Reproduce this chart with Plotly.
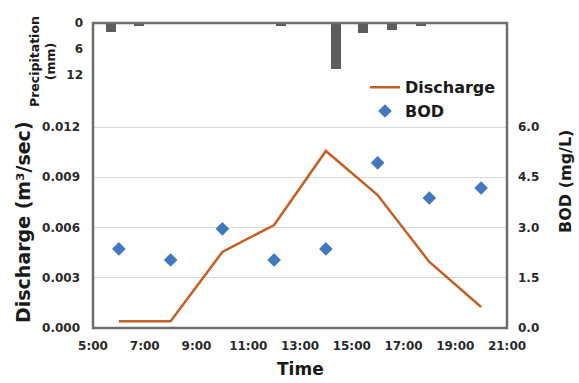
import plotly.graph_objects as go

# ---- data ----
hours = [6, 8, 10, 12, 14, 16, 18, 20]
discharge = [0.0004, 0.0004, 0.00454, 0.00615, 0.01057, 0.00794, 0.00394, 0.00125]
bod = [2.36, 2.03, 2.96, 2.03, 2.36, 4.93, 3.88, 4.18]
precip_hours = [5.68, 6.79, 12.25, 14.39, 15.45, 16.56, 17.68]
precip_mm = [2.0, 0.8, 0.7, 10.5, 2.4, 1.5, 0.7]

x_ticks = [5, 7, 9, 11, 13, 15, 17, 19, 21]
x_ticktext = ["5:00", "7:00", "9:00", "11:00", "13:00", "15:00", "17:00", "19:00", "21:00"]
q_ticks = [0, 0.003, 0.006, 0.009, 0.012]
bod_ticks = [0, 1.5, 3.0, 4.5, 6.0]
p_ticks = [0, 6, 12]

FONT = "DejaVu Sans"
TXT = "#1a1a1a"
TICK = "#2a2a2a"

fig = go.Figure()
fig.add_trace(go.Bar(x=precip_hours, y=precip_mm, yaxis="y3", width=0.38,
                     marker=dict(color="#5c5c5c", line=dict(width=0)),
                     showlegend=False, name="Precipitation"))
fig.add_trace(go.Scatter(x=hours, y=discharge, mode="lines", name="Discharge",
                         line=dict(color="#c65f23", width=2.5)))
fig.add_trace(go.Scatter(x=hours, y=bod, mode="markers", name="BOD", yaxis="y2",
                         marker=dict(symbol="diamond", size=10.5, color="#4178be",
                                     line=dict(width=0))))

top_q = 0.012 * 305 / 201
top_b = 6.0 * 305 / 201

def tfont(size):
    return dict(size=size, family=FONT, weight="bold", color=TICK)

def afont(size):
    return dict(size=size, family=FONT, weight="bold", color=TXT)

fig.update_layout(
    width=579, height=383,
    margin=dict(l=93, r=72, t=23, b=55),
    plot_bgcolor="white", paper_bgcolor="white",
    font=dict(family=FONT, color=TXT, weight="bold"),
    bargap=0,
    xaxis=dict(range=[5, 21], tickvals=x_ticks, ticktext=x_ticktext, showgrid=False,
               zeroline=False, showline=False, ticks="", ticklabelstandoff=9,
               tickfont=tfont(12)),
    yaxis=dict(range=[0, top_q], tickvals=q_ticks, tickformat=".3f", showgrid=True,
               gridcolor="#d9d9d9", gridwidth=1, zeroline=False, showline=False,
               ticks="", ticklabelstandoff=12, tickfont=tfont(12)),
    yaxis2=dict(range=[0, top_b], tickvals=bod_ticks, tickformat=".1f", overlaying="y",
                side="right", showgrid=False, zeroline=False, showline=False, ticks="",
                ticklabelstandoff=10, tickfont=tfont(12)),
    yaxis3=dict(domain=[(328 - 75) / 305, 1], range=[12, 0], tickvals=p_ticks,
                showgrid=False, zeroline=False, showline=False, ticks="", anchor="x",
                ticklabelstandoff=9, tickfont=tfont(12)),
    legend=dict(x=0.657, y=0.845, xanchor="left", yanchor="top",
                bgcolor="rgba(0,0,0,0)", font=afont(16), tracegroupgap=0),
    shapes=[
        dict(type="line", xref="paper", x0=0, x1=1, yref="y3", y0=12, y1=12,
             line=dict(color="#d9d9d9", width=1), layer="below"),
        dict(type="rect", xref="paper", yref="paper", x0=0, x1=1, y0=0, y1=1,
             line=dict(color="#6e6e6e", width=2.5)),
    ],
    annotations=[
        dict(text="Discharge (m³/sec)", xref="paper", yref="paper", x=(23 - 93) / 414,
             y=(328 - 222) / 305, xanchor="center", yanchor="middle", textangle=-90,
             showarrow=False, font=afont(19)),
        dict(text="BOD (mg/L)", xref="paper", yref="paper", x=(565 - 93) / 414,
             y=(328 - 182) / 305, xanchor="center", yanchor="middle", textangle=-90,
             showarrow=False, font=afont(16)),
        dict(text="Time", xref="paper", yref="paper", x=0.5, y=(328 - 369) / 305,
             xanchor="center", yanchor="middle", showarrow=False, font=afont(17)),
        dict(text="Precipitation<br>(mm)", xref="paper", yref="paper", x=(43 - 93) / 414,
             y=(328 - 62) / 305, xanchor="center", yanchor="middle", textangle=-90,
             showarrow=False, font=afont(12.5)),
    ],
)

fig.write_html("out.html")
